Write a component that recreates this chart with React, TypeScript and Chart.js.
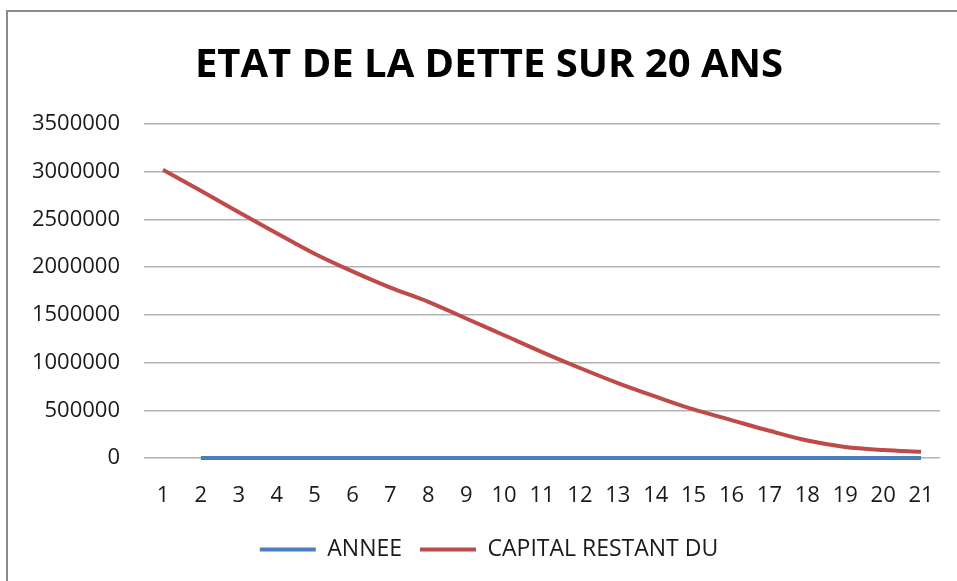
import React, { useEffect, useRef } from "react";
import { Chart, registerables } from "chart.js";

Chart.register(...registerables);

const categories = ["1","2","3","4","5","6","7","8","9","10","11","12","13","14","15","16","17","18","19","20","21"];
const annee: (number | null)[] = [null, 2, 3, 4, 5, 6, 7, 8, 9, 10, 11, 12, 13, 14, 15, 16, 17, 18, 19, 20, 21];
const capitalRestantDu = [3020000, 2800000, 2575000, 2355000, 2140000, 1955000, 1785000, 1637000, 1462000, 1286000, 1110000, 943000, 785000, 643000, 509000, 397000, 285000, 183000, 116000, 84000, 65000];
const yTicks = [0, 500000, 1000000, 1500000, 2000000, 2500000, 3000000, 3500000];
const titleText = "ETAT DE LA DETTE SUR 20 ANS";

const FONT = "'Open Sans', 'DejaVu Sans', sans-serif";

export default function App() {
  const ref = useRef<HTMLCanvasElement | null>(null);
  useEffect(() => {
    document.body.style.margin = "0";
    if (!ref.current) return;
    const chart = new Chart(ref.current, {
      type: "line",
      data: {
        labels: categories,
        datasets: [
          {
            label: "ANNEE",
            data: annee,
            borderColor: "#4a7ebb",
            backgroundColor: "#4a7ebb",
            borderWidth: 4,
            pointRadius: 0,
            tension: 0.3,
            clip: 8,
          },
          {
            label: "CAPITAL RESTANT DU",
            data: capitalRestantDu,
            borderColor: "#be4b48",
            backgroundColor: "#be4b48",
            borderWidth: 4,
            pointRadius: 0,
            cubicInterpolationMode: "monotone",
            clip: 8,
          },
        ],
      },
      options: {
        animation: false,
        responsive: false,
        devicePixelRatio: 1,
        layout: { padding: { left: 0, right: -21, top: 0, bottom: 10 } },
        plugins: {
          title: {
            display: true,
            text: titleText,
            color: "#000",
            font: { family: FONT, size: 40, weight: "bold" },
            padding: { top: 42, bottom: 34 },
          },
          legend: {
            position: "bottom",
            labels: {
              color: "#1a1a1a",
              font: { family: FONT, size: 23 },
              boxWidth: 56,
              boxHeight: 4,
              padding: 18,
              generateLabels: (c: any) =>
                Chart.defaults.plugins.legend.labels.generateLabels(c).map((l: any) => ({ ...l, lineWidth: 0 })),
            },
          },
          tooltip: { enabled: false },
        },
        scales: {
          x: {
            type: "category",
            offset: true,
            grid: { display: false },
            border: { display: false },
            ticks: { color: "#1a1a1a", font: { family: FONT, size: 22 }, padding: 17, maxRotation: 0, autoSkip: false },
            afterFit: (s: any) => { s.height = 62; },
          },
          y: {
            min: 0,
            max: 3500000,
            afterBuildTicks: (s: any) => { s.ticks = yTicks.map((v) => ({ value: v })); },
            grid: { color: "#b3b3b3", lineWidth: 1.5, drawTicks: false },
            border: { display: false },
            ticks: { color: "#1a1a1a", font: { family: FONT, size: 22 }, padding: 24, callback: (v: any) => String(v) },
            afterFit: (s: any) => { s.width = 144; },
          },
          yRightSpacer: {
            type: "linear",
            position: "right",
            display: true,
            grid: { display: false },
            border: { display: false },
            ticks: { display: false },
            afterFit: (s: any) => { s.width = 38; },
          },
        },
      },
    });
    return () => chart.destroy();
  }, []);
  return (
    <div style={{ position: "relative", width: 957, height: 581, background: "#fff" }}>
      <canvas ref={ref} width={957} height={581} style={{ position: "absolute", left: 0, top: 0 }} />
      <div style={{ position: "absolute", left: 6, top: 10, width: 951, height: 571, borderTop: "2px solid #8c8c8c", borderLeft: "2px solid #8c8c8c", pointerEvents: "none" }} />
    </div>
  );
}
